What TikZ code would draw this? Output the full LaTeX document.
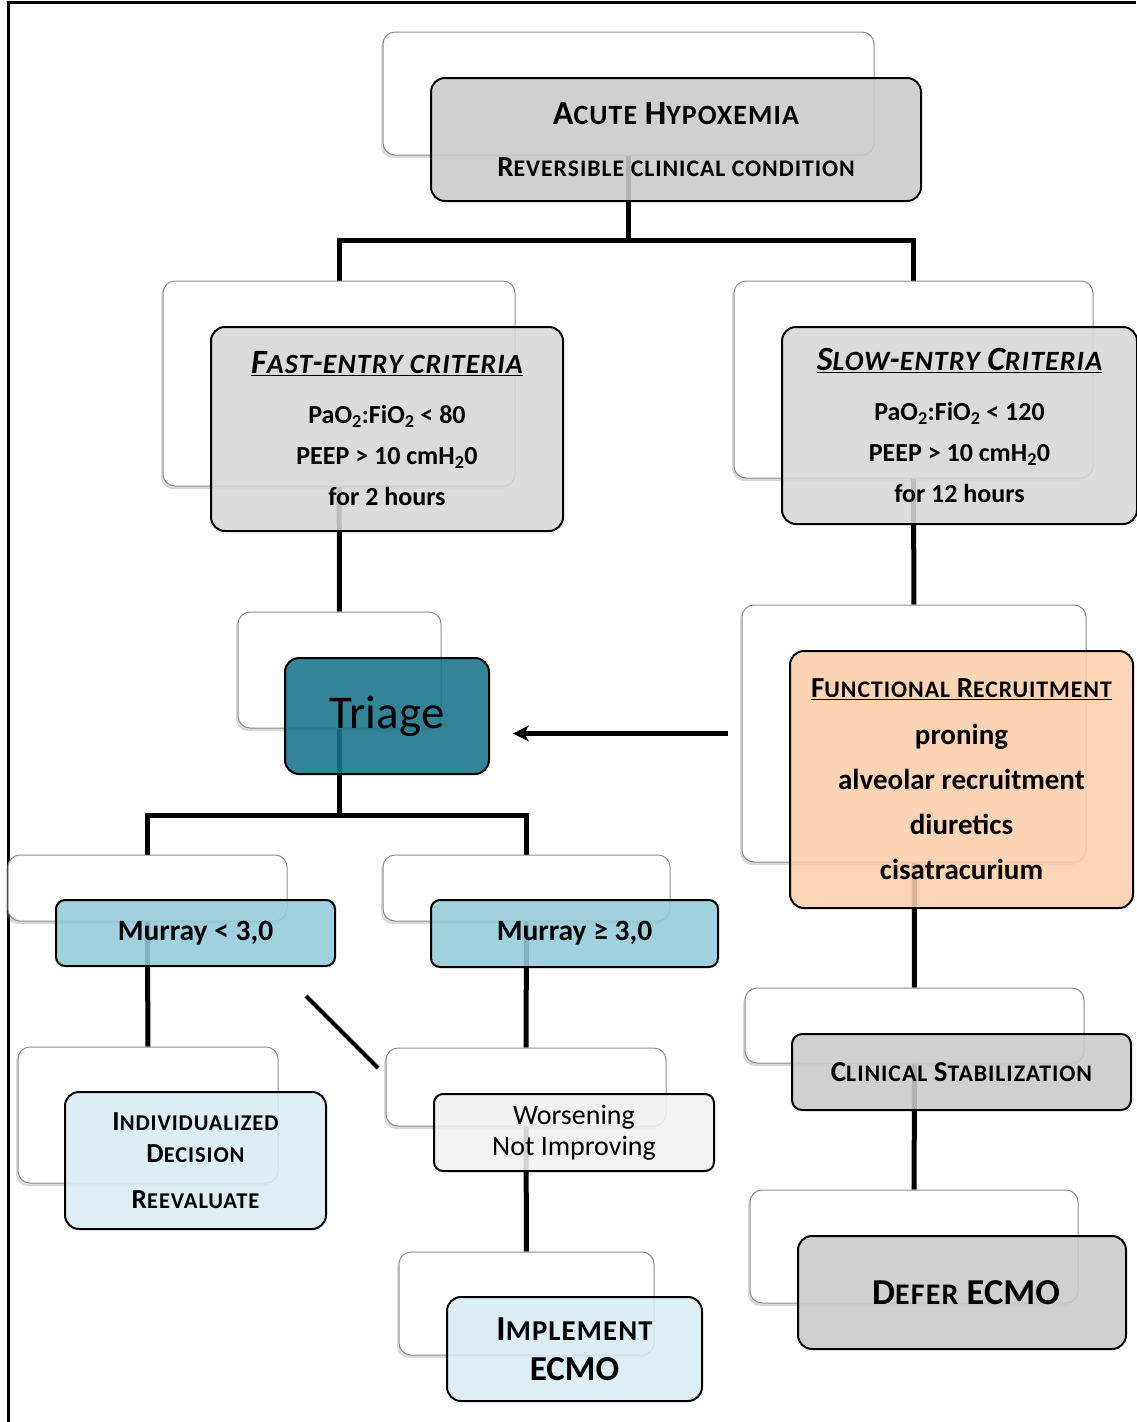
\documentclass[tikz,border=0pt]{standalone}
\usepackage{fontspec}
\setmainfont{Carlito}
\usetikzlibrary{shadows,arrows.meta}

\makeatletter
\newcommand{\sm}[1]{{\fontsize{\strip@pt\dimexpr0.82\dimexpr\f@size pt\relax\relax}{\f@baselineskip}\selectfont\addfontfeatures{LetterSpace=4}#1}}
\makeatother

\definecolor{boxgrey}{HTML}{CACACA}
\definecolor{critgrey}{HTML}{D7D7D7}
\definecolor{triageteal}{HTML}{17728B}
\definecolor{murrayblue}{HTML}{93CBD9}
\definecolor{paleblue}{HTML}{D8ECF3}
\definecolor{worsegrey}{HTML}{F0F0F0}
\definecolor{peach}{HTML}{FACFAB}

\pgfdeclarelayer{back}
\pgfsetlayers{back,main}

\tikzset{
  backbox/.style={draw=black!45, line width=1pt, fill=white, rounded corners=12pt, inner sep=0,
    drop shadow={shadow xshift=-2pt, shadow yshift=-3pt, opacity=0.3}},
  frontbox/.style={draw=black, line width=2pt, fill=#1, fill opacity=0.88, text opacity=1,
    rounded corners=14pt, inner sep=0, align=center},
  link/.style={line width=5pt},
}

\begin{document}
\begin{tikzpicture}[x=1pt,y=-1pt]
\useasboundingbox (0,0) rectangle (1136,1422);
\draw[line width=3pt] (8,1422) -- (8,2.5) -- (1136,2.5);

% top
\node[backbox, minimum width=491, minimum height=123] (top-b) at (628.5,93.5) {};
\node[frontbox=boxgrey, minimum width=490, minimum height=123,
  font=\bfseries\fontsize{29}{36}\selectfont] (top) at (676,139.5)
  {{\fontsize{34}{36}\selectfont A\sm{CUTE} H\sm{YPOXEMIA}}\\[16pt]
   R\sm{EVERSIBLE} \sm{CLINICAL CONDITION}};

% entry criteria
\node[backbox, minimum width=352, minimum height=205] (fast-b) at (339,383.5) {};
\node[frontbox=critgrey, minimum width=352, minimum height=204,
  font=\bfseries\fontsize{26}{41}\selectfont] (fast) at (387,429)
  {{\fontsize{34}{41}\selectfont\underline{\itshape F\sm{AST}-\sm{ENTRY CRITERIA}}}\\[9pt]
   PaO\textsubscript{2}:FiO\textsubscript{2} < 80\\
   PEEP > 10 cmH\textsubscript{2}0\\ for 2 hours};
\node[backbox, minimum width=359, minimum height=197] (slow-b) at (913.5,379.5) {};
\node[frontbox=critgrey, minimum width=355, minimum height=197,
  font=\bfseries\fontsize{26}{41}\selectfont] (slow) at (959.5,425.5)
  {{\fontsize{34}{41}\selectfont\underline{\itshape S\sm{LOW}-\sm{ENTRY} C\sm{RITERIA}}}\\[9pt]
   PaO\textsubscript{2}:FiO\textsubscript{2} < 120\\
   PEEP > 10 cmH\textsubscript{2}0\\ for 12 hours};

% triage and recruitment
\node[backbox, minimum width=203, minimum height=116] (triage-b) at (339.5,670) {};
\node[frontbox=triageteal, minimum width=204, minimum height=116,
  font=\fontsize{47}{50}\selectfont] (triage) at (387,716) {Triage};
\node[backbox, minimum width=344, minimum height=257] (func-b) at (914,733.5) {};
\node[frontbox=peach, minimum width=343, minimum height=257,
  font=\bfseries\fontsize{29}{45}\selectfont] (func) at (961.5,779.5)
  {\underline{F\sm{UNCTIONAL} R\sm{ECRUITMENT}}\\[2pt]
   proning\\ alveolar recruitment\\ diuretics\\ cisatracurium};

% murray
\node[backbox, minimum width=279, minimum height=66] (m1-b) at (147.5,888) {};
\node[frontbox=murrayblue, minimum width=279, minimum height=66, rounded corners=9pt,
  font=\bfseries\fontsize{29.5}{32}\selectfont] (m1) at (195.5,933) {Murray < 3,0};
\node[backbox, minimum width=287, minimum height=66] (m2-b) at (526.5,888) {};
\node[frontbox=murrayblue, minimum width=287, minimum height=67, rounded corners=9pt,
  font=\bfseries\fontsize{29.5}{32}\selectfont] (m2) at (574.5,933.5) {Murray ≥ 3,0};

% outcomes
\node[backbox, minimum width=260, minimum height=136] (indiv-b) at (148,1115) {};
\node[frontbox=paleblue, minimum width=261, minimum height=137,
  font=\bfseries\fontsize{27.5}{32}\selectfont] (indiv) at (195.5,1160.5)
  {I\sm{NDIVIDUALIZED}\\ D\sm{ECISION}\\[14pt] R\sm{EEVALUATE}};
\node[backbox, minimum width=280, minimum height=78] (worse-b) at (526,1087) {};
\node[frontbox=worsegrey, minimum width=280, minimum height=77, rounded corners=9pt,
  font=\fontsize{28}{31}\selectfont] (worse) at (574,1132.5) {Worsening\\ Not Improving};
\node[backbox, minimum width=255, minimum height=103] (impl-b) at (526.5,1303.5) {};
\node[frontbox=paleblue, minimum width=255, minimum height=104,
  font=\bfseries\fontsize{35}{40}\selectfont] (impl) at (574.5,1349)
  {I\sm{MPLEMENT}\\ ECMO};
\node[backbox, minimum width=339, minimum height=75] (clin-b) at (914.5,1025.5) {};
\node[frontbox=boxgrey, minimum width=339, minimum height=76, rounded corners=10pt,
  font=\bfseries\fontsize{29}{32}\selectfont] (clin) at (961.5,1072)
  {C\sm{LINICAL} S\sm{TABILIZATION}};
\node[backbox, minimum width=328, minimum height=113] (defer-b) at (914,1246.5) {};
\node[frontbox=boxgrey, minimum width=328, minimum height=113,
  font=\bfseries\fontsize{36.5}{40}\selectfont] (defer) at (962,1292.5)
  {\hspace*{8pt}D\sm{EFER} ECMO};

\coordinate (fork1) at (628.5,240);
\coordinate (fork2) at (339.5,815);
\coordinate (cross1) at (306,996);
\coordinate (cross2) at (378,1068);
\coordinate (arrow-end) at (513,733.5);

\begin{pgfonlayer}{back}
\draw[link] (top-b) -- (fork1) -| (fast-b);
\draw[link] (fork1) -| (slow-b);
\draw[link] (fast-b) -- (triage-b);
\draw[link] (slow-b) -- (func-b);
\draw[link] (triage-b) -- (fork2) -| (m1-b);
\draw[link] (fork2) -| (m2-b);
\draw[link] (m1-b) -- (indiv-b);
\draw[link] (m2-b) -- (worse-b);
\draw[link] (worse-b) -- (impl-b);
\draw[link] (func-b) -- (clin-b);
\draw[link] (clin-b) -- (defer-b);
\end{pgfonlayer}
\draw[line width=4pt] (cross1) -- (cross2);
\draw[link, -{Stealth[length=16pt,width=16pt,inset=5pt]}] ([xshift=-14pt]func-b.west) -- (arrow-end);
\end{tikzpicture}
\end{document}
